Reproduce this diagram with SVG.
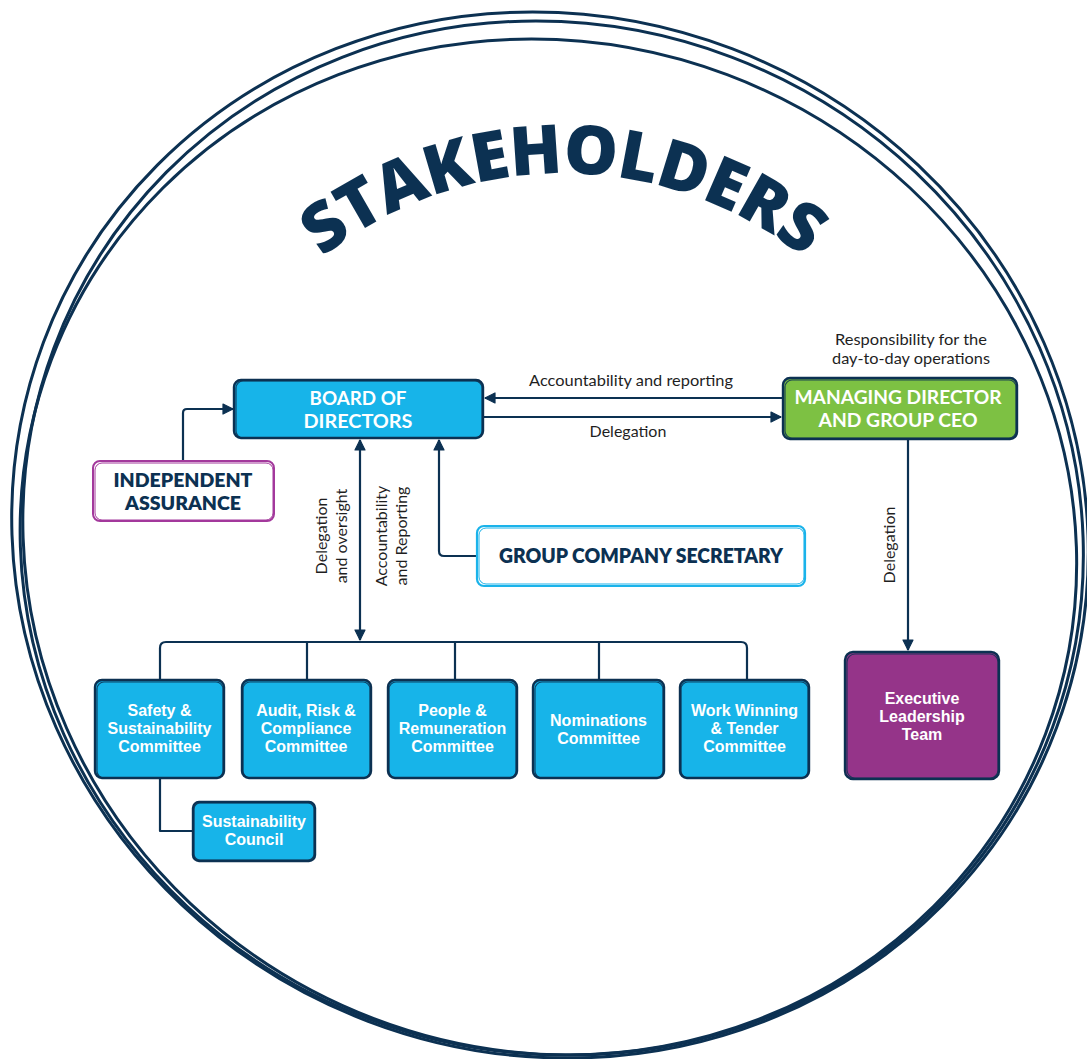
<svg xmlns="http://www.w3.org/2000/svg" width="1087" height="1059" viewBox="0 0 1087 1059">
<style>
.ring{fill:none;stroke:#0c3152;stroke-width:3}
.box{stroke:#0c3152;stroke-width:2.4}
.sk{fill:none;stroke:#0c3152;stroke-width:1.2;opacity:.85}
.blue{fill:#17b4e9}
.green{fill:#7dc143}
.purple{fill:#953489}
.wt{fill:#fff;font-family:Lato,"Liberation Sans",sans-serif;font-weight:700;text-anchor:middle}
.wc{fill:#fff;font-family:"Liberation Sans",Arial,sans-serif;font-weight:700;text-anchor:middle;font-size:16px}
.nt{fill:#0c3152;font-family:Lato,"Liberation Sans",sans-serif;font-weight:800;text-anchor:middle}
.t1{font-size:19px}
.lbl{fill:#1f1f1f;font-family:Lato,"Liberation Sans",sans-serif;font-size:16px;text-anchor:middle}
.con{fill:none;stroke:#0c3152;stroke-width:2.2;stroke-linejoin:round}
.title{fill:#0c3152;font-family:"Open Sans","Noto Sans",sans-serif;font-weight:800;font-size:68px}
</style>
<defs>
<marker id="ah" viewBox="0 0 12 12" refX="11" refY="6" markerWidth="12" markerHeight="12" markerUnits="userSpaceOnUse" orient="auto-start-reverse">
<path d="M1,1 L11,6 L1,11 Z" fill="#0c3152" stroke="#0c3152" stroke-width="1.2" stroke-linejoin="round"/>
</marker>
<path id="arc" d="M229,365 A387,387 0 0 1 897,365"/>
</defs>
<rect width="1087" height="1059" fill="#fff"/>

<g id="ring">
<g transform="translate(550,535) skewX(1.9)">
<ellipse class="ring" cx="0" cy="0" rx="538" ry="523"/>
<ellipse class="ring" cx="3" cy="3" rx="530" ry="517" stroke-width="2.6"/>
<ellipse class="ring" cx="-2" cy="12" rx="528" ry="508" stroke-width="2.6"/>
</g>
</g>

<g id="title">
<text class="title" text-anchor="middle"><textPath href="#arc" startOffset="50%" letter-spacing="-1">STAKEHOLDERS</textPath></text>
</g>

<g id="connectors">
<path class="con" d="M183,461 V413 Q183,409 187,409 H233" marker-end="url(#ah)"/>
<path class="con" d="M783,398 H485" marker-end="url(#ah)"/>
<path class="con" d="M484,417 H781" marker-end="url(#ah)"/>
<path class="con" d="M360,440 V640" marker-start="url(#ah)" marker-end="url(#ah)"/>
<path class="con" d="M477,556 H444 Q439,556 439,551 V440" marker-end="url(#ah)"/>
<path class="con" d="M160,680 V648 Q160,642 166,642 H741 Q747,642 747,648 V680"/>
<path class="con" d="M307,642 V680 M455,642 V680 M599,642 V680"/>
<path class="con" d="M160,779 V831 H193"/>
<path class="con" d="M908,439 V650" marker-end="url(#ah)"/>
<text class="lbl" x="631" y="386" textLength="204" lengthAdjust="spacingAndGlyphs">Accountability and reporting</text>
<text class="lbl" x="628" y="437">Delegation</text>
<text class="lbl" font-size="15.5"><tspan x="911" y="345" textLength="152" lengthAdjust="spacingAndGlyphs">Responsibility for the</tspan><tspan x="911" y="364" textLength="158" lengthAdjust="spacingAndGlyphs">day-to-day operations</tspan></text>
<text class="lbl" transform="translate(327,536) rotate(-90)"><tspan x="0" y="0">Delegation</tspan><tspan x="0" y="19.5">and oversight</tspan></text>
<text class="lbl" transform="translate(387,536) rotate(-90)"><tspan x="0" y="0">Accountability</tspan><tspan x="0" y="19.5">and Reporting</tspan></text>
<text class="lbl" transform="translate(895,545) rotate(-90)">Delegation</text>
</g>

<g id="board">
<rect class="box blue" x="234" y="380" width="249" height="58" rx="7"/>
<rect class="sk" x="236" y="381" width="246" height="57" rx="7"/>
<text class="wt t1"><tspan x="358" y="405" textLength="97" lengthAdjust="spacingAndGlyphs">BOARD OF</tspan><tspan x="358" y="428" textLength="109" lengthAdjust="spacingAndGlyphs">DIRECTORS</tspan></text>
</g>

<g id="md">
<rect class="box green" x="783" y="378" width="234" height="61" rx="7"/>
<rect class="sk" x="785" y="380" width="231" height="58" rx="7"/>
<text class="wt t1"><tspan x="898" y="404" textLength="207" lengthAdjust="spacingAndGlyphs">MANAGING DIRECTOR</tspan><tspan x="898" y="427" textLength="159" lengthAdjust="spacingAndGlyphs">AND GROUP CEO</tspan></text>
</g>

<g id="ia">
<rect x="93" y="461" width="181" height="60" rx="7" fill="#fff" stroke="#a3399c" stroke-width="2"/>
<rect x="95" y="463" width="178" height="57" rx="7" fill="none" stroke="#a3399c" stroke-width="1"/>
<text class="nt t1"><tspan x="183" y="487" textLength="139" lengthAdjust="spacingAndGlyphs">INDEPENDENT</tspan><tspan x="183" y="510" textLength="116" lengthAdjust="spacingAndGlyphs">ASSURANCE</tspan></text>
</g>

<g id="gcs">
<rect x="477" y="526" width="328" height="60" rx="7" fill="#fff" stroke="#1ab3ea" stroke-width="2.2"/>
<rect x="479" y="528" width="325" height="56" rx="7" fill="none" stroke="#1ab3ea" stroke-width="1"/>
<text class="nt" font-size="20" x="641" y="563" textLength="284" lengthAdjust="spacingAndGlyphs">GROUP COMPANY SECRETARY</text>
</g>

<g id="safety">
<rect class="box blue" x="95" y="680" width="129" height="98" rx="7"/>
<rect class="sk" x="97" y="682" width="126" height="96" rx="7"/>
<text class="wc"><tspan x="159.5" y="716">Safety &amp;</tspan><tspan x="159.5" y="734">Sustainability</tspan><tspan x="159.5" y="752">Committee</tspan></text>
</g>

<g id="audit">
<rect class="box blue" x="242" y="680" width="129" height="98" rx="7"/>
<rect class="sk" x="243" y="682" width="127" height="96" rx="7"/>
<text class="wc"><tspan x="306" y="716">Audit, Risk &amp;</tspan><tspan x="306" y="734">Compliance</tspan><tspan x="306" y="752">Committee</tspan></text>
</g>

<g id="people">
<rect class="box blue" x="388" y="680" width="129" height="98" rx="7"/>
<rect class="sk" x="389" y="682" width="127" height="96" rx="7"/>
<text class="wc"><tspan x="452.5" y="716">People &amp;</tspan><tspan x="452.5" y="734">Remuneration</tspan><tspan x="452.5" y="752">Committee</tspan></text>
</g>

<g id="nominations">
<rect class="box blue" x="533" y="680" width="131" height="98" rx="7"/>
<rect class="sk" x="535" y="682" width="128" height="96" rx="7"/>
<text class="wc"><tspan x="598.5" y="726">Nominations</tspan><tspan x="598.5" y="744">Committee</tspan></text>
</g>

<g id="work">
<rect class="box blue" x="680" y="680" width="129" height="98" rx="7"/>
<rect class="sk" x="681" y="682" width="127" height="96" rx="7"/>
<text class="wc"><tspan x="744.5" y="716">Work Winning</tspan><tspan x="744.5" y="734">&amp; Tender</tspan><tspan x="744.5" y="752">Committee</tspan></text>
</g>

<g id="elt">
<rect class="box purple" x="845" y="652" width="154" height="127" rx="8"/>
<rect class="sk" x="847" y="654" width="151" height="124" rx="8"/>
<text class="wc"><tspan x="922" y="704">Executive</tspan><tspan x="922" y="722">Leadership</tspan><tspan x="922" y="740">Team</tspan></text>
</g>

<g id="council">
<rect class="box blue" x="193" y="802" width="122" height="59" rx="6"/>
<rect class="sk" x="194" y="803" width="120" height="57" rx="6"/>
<text class="wc" font-size="14.5"><tspan x="254" y="827">Sustainability</tspan><tspan x="254" y="845">Council</tspan></text>
</g>
</svg>
